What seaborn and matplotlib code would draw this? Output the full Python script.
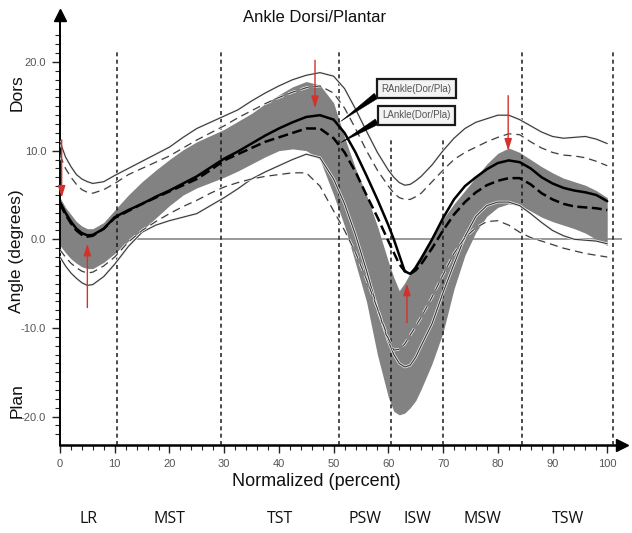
import numpy as np
import pandas as pd
import matplotlib
matplotlib.use("Agg")
import matplotlib.pyplot as plt
import matplotlib.patheffects as pe
from matplotlib.ticker import FixedLocator, StrMethodFormatter
import seaborn as sns

# ---------------- data ----------------
pct = [0, 1, 2, 3, 4, 5, 6, 8, 10, 12.5, 15, 17.5, 20, 22.5, 25, 27.5, 30, 32.5,
       35, 37.5, 40, 42.5, 45, 47.5, 50, 52, 54, 56, 58, 60, 61, 62, 63, 64, 65,
       66, 68, 70, 72, 74, 76, 78, 80, 82, 84, 86, 88, 90, 92, 94, 96, 98, 100]

r_mean = [4.2, 3.0, 2.0, 1.2, 0.7, 0.45, 0.5, 1.2, 2.5, 3.3, 4.0, 4.8, 5.5, 6.3,
          7.1, 8.1, 9.1, 9.9, 10.8, 11.7, 12.5, 13.2, 13.8, 14.0, 13.5, 12.0, 9.8,
          7.2, 4.5, 1.6, 0.0, -1.8, -3.6, -3.9, -3.2, -2.2, 0.0, 2.4, 4.5, 6.0,
          7.0, 7.9, 8.6, 8.9, 8.7, 8.0, 7.0, 6.3, 5.8, 5.5, 5.3, 5.0, 4.3]

l_mean = [4.0, 2.8, 1.8, 1.0, 0.5, 0.3, 0.4, 1.2, 2.4, 3.2, 4.0, 4.7, 5.4, 6.1,
          6.8, 7.8, 8.9, 9.6, 10.3, 11.0, 11.5, 12.0, 12.5, 12.5, 11.4, 9.8, 7.6,
          5.0, 2.5, -0.2, -1.5, -2.8, -3.6, -3.9, -3.5, -2.8, -1.0, 1.0, 2.8, 4.2,
          5.3, 6.1, 6.6, 6.9, 6.9, 6.2, 5.2, 4.5, 4.0, 3.7, 3.6, 3.5, 3.3]

r_upper = [11.0, 9.3, 8.2, 7.3, 6.8, 6.5, 6.3, 6.5, 7.2, 8.0, 8.8, 9.6, 10.4, 11.5,
           12.5, 13.2, 13.9, 14.6, 15.6, 16.5, 17.3, 18.0, 18.5, 18.8, 18.4, 17.0,
           14.7, 12.2, 9.8, 7.8, 7.0, 6.4, 6.1, 6.2, 6.6, 7.1, 8.4, 10.0, 11.4,
           12.5, 13.2, 13.6, 14.0, 14.0, 13.5, 12.8, 12.1, 11.6, 11.4, 11.5, 11.6,
           11.3, 10.8]

l_upper = [9.5, 8.0, 7.0, 6.2, 5.6, 5.3, 5.2, 5.6, 6.3, 7.3, 8.0, 8.7, 9.4, 10.3,
           11.2, 12.0, 12.8, 13.7, 14.5, 15.3, 16.0, 16.6, 17.1, 17.3, 16.5, 14.8,
           12.5, 10.0, 7.8, 6.0, 5.2, 4.7, 4.5, 4.5, 4.8, 5.2, 6.5, 7.8, 9.0, 9.8,
           10.4, 11.0, 11.5, 11.9, 11.8, 11.0, 10.3, 9.8, 9.5, 9.4, 9.2, 8.8, 8.3]

r_lower = [-2.0, -3.0, -3.8, -4.4, -4.9, -5.2, -5.1, -4.2, -2.8, -0.8, 0.8, 1.6,
           2.1, 2.5, 2.9, 3.8, 4.7, 5.7, 6.8, 7.6, 8.3, 9.0, 9.6, 9.2, 6.8, 4.0,
           0.5, -3.5, -7.8, -11.5, -13.0, -14.0, -14.4, -14.2, -13.3, -12.0, -9.5,
           -6.0, -2.8, 0.3, 2.6, 3.8, 4.2, 4.2, 3.8, 2.9, 1.9, 1.0, 0.4, 0.0, -0.1,
           -0.2, -0.5]

l_lower = [-1.2, -2.0, -2.7, -3.2, -3.6, -3.8, -3.7, -3.0, -2.0, -0.3, 1.0, 2.0,
           2.9, 3.7, 4.4, 5.2, 5.9, 6.4, 6.8, 7.1, 7.3, 7.5, 7.5, 6.0, 3.2, 1.0,
           -1.5, -4.5, -7.8, -11.2, -12.5, -12.4, -11.8, -10.8, -9.8, -8.8, -6.5,
           -4.0, -1.6, 0.2, 1.3, 2.0, 2.1, 1.6, 0.8, 0.2, -0.2, -0.6, -1.0, -1.3,
           -1.6, -1.8, -2.0]

band_hi = [4.7, 3.6, 2.8, 2.0, 1.5, 1.2, 1.2, 1.9, 3.3, 5.0, 6.5, 7.8, 9.0, 10.1,
           11.0, 11.7, 12.4, 13.3, 14.2, 15.3, 16.3, 17.2, 17.8, 17.4, 15.4, 11.5,
           8.0, 5.0, 1.5, -2.5, -4.3, -5.8, -4.9, -3.8, -2.7, -1.7, 0.4, 2.3, 4.0,
           5.5, 7.0, 8.5, 9.7, 10.3, 9.8, 9.0, 8.2, 7.5, 6.9, 6.5, 6.1, 5.5, 4.7]

band_lo = [-0.7, -1.5, -2.2, -2.7, -3.1, -3.3, -3.3, -2.6, -1.6, -0.2, 1.0, 2.4,
           3.8, 5.0, 5.8, 6.4, 7.0, 7.7, 8.5, 9.3, 10.0, 10.2, 10.0, 9.0, 5.0, 1.5,
           -2.7, -7.0, -13.0, -17.8, -19.4, -19.8, -19.6, -19.0, -18.2, -16.9,
           -14.0, -10.5, -5.6, -1.8, 0.8, 2.6, 3.6, 4.0, 3.8, 3.2, 2.5, 2.0, 1.6,
           1.2, 0.7, 0.0, -0.7]

phase_bounds = [10.4, 29.5, 51.0, 60.5, 70.0, 84.5, 101.0]
phase_tops = [21.5, 21.5, 21.5, 11.3, 11.3, 21.5, 21.5]
phase_names = ["LR", "MST", "TST", "PSW", "ISW", "MSW", "TSW"]

arrow_x = [0.3, 5.0, 46.6, 63.4, 81.9]
arrow_from = [11.2, -7.7, 20.2, -9.4, 16.2]
arrow_to = [4.7, -0.5, 14.8, -5.0, 10.0]

x_ticks = [0, 10, 20, 30, 40, 50, 60, 70, 80, 90, 100]
y_ticks = [-20, -10, 0, 10, 20]

df = pd.DataFrame({"pct": pct, "r_mean": r_mean, "l_mean": l_mean,
                   "r_upper": r_upper, "l_upper": l_upper,
                   "r_lower": r_lower, "l_lower": l_lower,
                   "band_hi": band_hi, "band_lo": band_lo})

# ---------------- figure ----------------
sns.set_style("white")
plt.rcParams["font.family"] = ["Liberation Sans", "DejaVu Sans"]
plt.rcParams["axes.unicode_minus"] = False

fig = plt.figure(figsize=(6.32, 5.33), dpi=100)
ax = fig.add_axes([60 / 632, 88 / 533, 562 / 632, 430 / 533])
XMAX, YMIN, YMAX = 102.7, -23.2, 25.3
ax.set_xlim(0, XMAX)
ax.set_ylim(YMIN, YMAX)

# zero line (below the band)
ax.axhline(0, color="#7d7d7d", lw=1.1, zorder=1)

# normative band
ax.fill_between(df["pct"], df["band_lo"], df["band_hi"], color="#828282",
                lw=0, zorder=2)

# phase boundaries
ax.vlines(phase_bounds, YMIN, phase_tops, colors="#1a1a1a", lw=1.1,
          linestyles=[(0, (2.6, 2.2))], zorder=3)

halo = [pe.Stroke(linewidth=1.9, foreground="#f4f4f4"), pe.Normal()]
thin_c = "#3a3a3a"
sns.lineplot(data=df, x="pct", y="r_upper", ax=ax, color=thin_c, lw=0.85,
             path_effects=halo, zorder=4)
sns.lineplot(data=df, x="pct", y="r_lower", ax=ax, color=thin_c, lw=0.85,
             path_effects=halo, zorder=4)
sns.lineplot(data=df, x="pct", y="l_upper", ax=ax, color=thin_c, lw=0.85,
             linestyle=(0, (6.8, 4.2)), path_effects=halo, zorder=4)
sns.lineplot(data=df, x="pct", y="l_lower", ax=ax, color=thin_c, lw=0.85,
             linestyle=(0, (6.8, 4.2)), path_effects=halo, zorder=4)
sns.lineplot(data=df, x="pct", y="l_mean", ax=ax, color="black", lw=1.8,
             linestyle=(0, (4.0, 1.8)), zorder=5)
sns.lineplot(data=df, x="pct", y="r_mean", ax=ax, color="black", lw=1.8,
             zorder=6)

# red event arrows
for xa, y0, y1 in zip(arrow_x, arrow_from, arrow_to):
    ax.annotate("", xy=(xa, y1), xytext=(xa, y0),
                arrowprops=dict(arrowstyle="-|>,head_length=0.7,head_width=0.22",
                                color="#d2322d", lw=1.0, shrinkA=0, shrinkB=0,
                                mutation_scale=10),
                zorder=8)

# callout labels
for label, tip, ybox in [("RAnkle(Dor/Pla)", (51.3, 13.3), 17.0),
                         ("LAnkle(Dor/Pla)", (51.3, 10.9), 14.0)]:
    ax.annotate(label, xy=tip, xytext=(65.1, ybox), fontsize=7, color="#555555",
                ha="center", va="center",
                bbox=dict(boxstyle="square,pad=0.45", fc="#f3f3f3", ec="#1a1a1a",
                          lw=1.6),
                arrowprops=dict(arrowstyle="wedge,tail_width=0.45,shrink_factor=0.5",
                                fc="black", ec="black", lw=0.3, shrinkA=0,
                                shrinkB=0, mutation_scale=10, relpos=(0.0, 0.15)),
                zorder=9)

# axes styling
for s in ["top", "right"]:
    ax.spines[s].set_visible(False)
ax.spines["left"].set_color("black")
ax.spines["left"].set_linewidth(1.4)
ax.spines["bottom"].set_color("black")
ax.spines["bottom"].set_linewidth(1.8)
ax.plot([0], [YMAX], marker="^", color="black", ms=8, clip_on=False, zorder=10)
ax.plot([XMAX], [YMIN], marker=">", color="black", ms=8, clip_on=False, zorder=10)

ax.xaxis.set_major_locator(FixedLocator(x_ticks))
ax.xaxis.set_minor_locator(FixedLocator(list(range(0, 102, 2))))
ax.yaxis.set_major_locator(FixedLocator(y_ticks))
ax.yaxis.set_minor_locator(FixedLocator(list(range(-22, 24))))
ax.xaxis.set_major_formatter(StrMethodFormatter("{x:.0f}"))
ax.yaxis.set_major_formatter(StrMethodFormatter("{x:.1f}"))
ax.tick_params(axis="both", which="both", direction="out", bottom=True,
               left=True, color="#222222", labelsize=8, labelcolor="#555555")
ax.tick_params(axis="both", which="major", length=6, width=1.0, pad=4)
ax.tick_params(axis="both", which="minor", length=3.5, width=0.8)

ax.set_xlabel("")
ax.set_ylabel("")
ax.grid(False)

# texts
fig.text(315 / 632, 1 - 18 / 533, "Ankle Dorsi/Plantar", ha="center",
         va="center", fontsize=12, color="#111111")
fig.text(316 / 632, 1 - 481 / 533, "Normalized (percent)", ha="center",
         va="center", fontsize=13, color="#111111")
fig.text(17 / 632, 1 - 93 / 533, "Dors", rotation=90, ha="center",
         va="center", fontsize=12.5, color="#111111")
fig.text(17 / 632, 1 - 251 / 533, "Angle (degrees)", rotation=90, ha="center",
         va="center", fontsize=12.5, color="#111111")
fig.text(17 / 632, 1 - 401 / 533, "Plan", rotation=90, ha="center",
         va="center", fontsize=12.5, color="#111111")

starts = [0.0] + phase_bounds[:-1]
for name, a, b in zip(phase_names, starts, phase_bounds):
    xm = (a + b) / 2
    xpix = 60 + xm * (562 / XMAX)
    fig.text(xpix / 632, 1 - 519 / 533, name, ha="center", va="center",
             fontsize=11.5, family=["Open Sans", "DejaVu Sans"], color="#111111")

fig.savefig("out.png", dpi=100, facecolor="white")
